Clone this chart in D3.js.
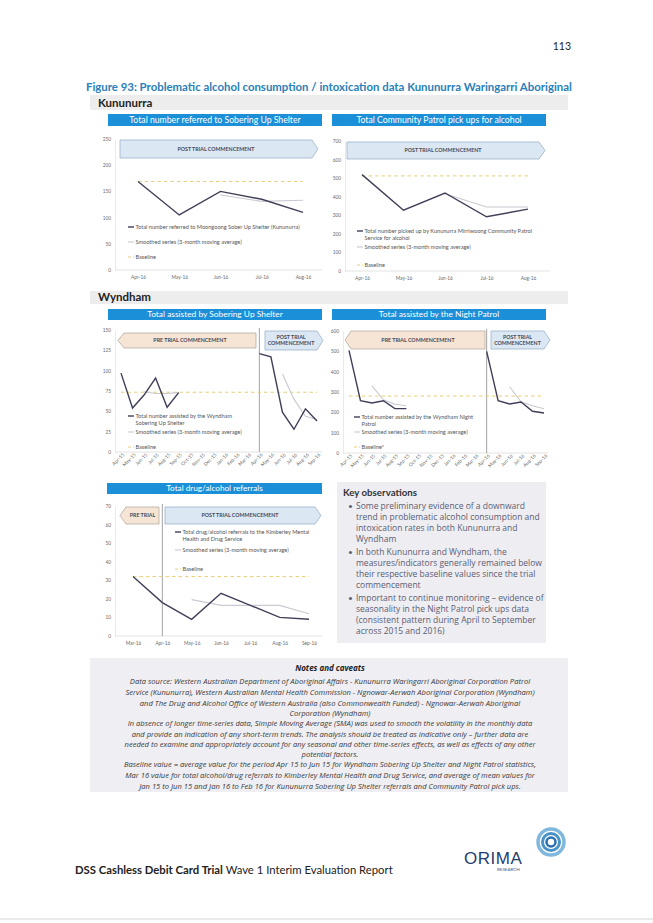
<!DOCTYPE html>
<html><head><meta charset="utf-8">
<script src="https://cdn.jsdelivr.net/npm/d3@7/dist/d3.min.js"></script>
<style>
html,body{margin:0;padding:0;background:#fff;}
svg{display:block;font-family:Lato,"Open Sans",sans-serif;}
</style></head><body>
<svg id="page" width="653" height="923"></svg>
<script>
// ---------- DATA ----------
const kunMonths = ["Apr-16","May-16","Jun-16","Jul-16","Aug-16"];
const kunShelter = [169,105,150,135,110];
const kunShelterSma = [null,null,143,131,133];
const kunShelterBase = 169;
const kunPatrol = [519,327,420,292,333];
const kunPatrolSma = [null,null,416,345,345];
const kunPatrolBase = 512;

const wynMonths = ["Apr-15","May-15","Jun-15","Jul-15","Aug-15","Sep-15","Oct-15","Nov-15","Dec-15","Jan-16","Feb-16","Mar-16","Apr-16","May-16","Jun-16","Jul-16","Aug-16","Sep-16"];
const wynShelter = [97,54,70,91,55,73,null,null,null,null,null,null,121,117,49,28,53,38];
const wynShelterSma = [null,null,74,72,72,73,null,null,null,null,null,null,null,null,96,65,44,40];
const wynShelterBase = 73.5;
const wynPatrol = [505,257,246,257,218,218,null,null,null,null,null,null,500,257,241,251,205,197];
const wynPatrolSma = [null,null,330,262,240,232,null,null,null,null,null,null,null,null,326,252,232,218];
const wynPatrolBase = 280;

const drugMonths = ["Mar-16","Apr-16","May-16","Jun-16","Jul-16","Aug-16","Sep-16"];
const drugRef = [32,18,9,23,16.5,10,9];
const drugSma = [null,null,19.6,16.5,16.5,16.5,12];
const drugBase = 32;

const keyObs = [
  ["Some preliminary evidence of a downward","trend in problematic alcohol consumption and","intoxication rates in both Kununurra  and","Wyndham"],
  ["In both Kununurra  and Wyndham, the","measures/indicators generally remained below","their respective baseline values since the trial","commencement"],
  ["Important to continue monitoring \u2013 evidence of","seasonality in the Night Patrol pick ups data","(consistent pattern during April to September","across 2015 and 2016)"]
];
const notes = [
  "Data source: Western Australian Department of Aboriginal Affairs -  Kununurra Waringarri Aboriginal Corporation Patrol",
  "Service (Kununurra), Western Australian Mental Health Commission - Ngnowar-Aerwah Aboriginal Corporation  (Wyndham)",
  "and The Drug and Alcohol Office of Western Australia (also Commonwealth Funded) - Ngnowar-Aerwah Aboriginal",
  "Corporation  (Wyndham)",
  "In absence of longer time-series data, Simple Moving Average (SMA) was used to smooth the volatility in the monthly data",
  "and provide an indication of any short-term trends. The analysis should be treated as indicative only \u2013 further data are",
  "needed to examine and appropriately account for any seasonal and other time-series effects, as well as effects of any other",
  "potential factors.",
  "Baseline value = average value for the period Apr 15 to Jun 15 for Wyndham Sobering Up Shelter and Night Patrol statistics,",
  "Mar 16 value for total alcohol/drug referrals to Kimberley Mental Health and Drug Service, and average of  mean values for",
  "Jan 15 to Jun 15 and Jan 16 to Feb 16 for Kununurra Sobering Up Shelter referrals and Community Patrol pick ups."
];

// ---------- STYLE ----------
const C = {
  bar:"#1b8fd8", dark:"#3f3f58", smooth:"#c9c9d2", base:"#e6cf78",
  postFill:"#dbe8f4", postStroke:"#8fa9c2", preFill:"#f6e5d5", preStroke:"#a9a39c",
  axis:"#dcdcdc", lab:"#6b6b6b", legend:"#555"
};
const svg = d3.select("#page");

// page header
svg.append("text").attr("x",571).attr("y",50).attr("text-anchor","end")
  .attr("font-size",10.5).attr("fill","#222").text("113");
svg.append("text").attr("x",86).attr("y",91).attr("font-size",11.4).attr("font-weight","bold")
  .attr("fill","#2a80b9").text("Figure 93: Problematic alcohol consumption / intoxication data Kununurra Waringarri Aboriginal");

function band(y, h, label){
  svg.append("rect").attr("x",90).attr("y",y).attr("width",478).attr("height",h).attr("fill","#ededed");
  svg.append("text").attr("x",98).attr("y",y+h-3).attr("font-size",11.5).attr("font-weight","bold")
    .attr("fill","#222").text(label);
}
band(95,15,"Kununurra");
band(291,13,"Wyndham");

function arrowPath(x0,x1,y0,y1,dir){
  const t=6, ym=(y0+y1)/2;
  if(dir==="right") return `M${x0},${y0}L${x1-t},${y0}L${x1},${ym}L${x1-t},${y1}L${x0},${y1}Z`;
  return `M${x0+t},${y0}L${x1},${y0}L${x1},${y1}L${x0+t},${y1}L${x0},${ym}Z`;
}

function chart(o){
  const g = svg.append("g");
  // title bar
  const bh = o.bar[3]-o.bar[1], tfs = o.titleSize || 8.7;
  g.append("rect").attr("x",o.bar[0]).attr("y",o.bar[1]).attr("width",o.bar[2]-o.bar[0]).attr("height",bh).attr("fill",C.bar);
  g.append("text").attr("x",(o.bar[0]+o.bar[2])/2).attr("y",o.bar[1]+bh/2).attr("dy","0.35em").attr("text-anchor","middle")
    .attr("font-size",tfs).attr("fill","#fff").text(o.title);

  const x = d3.scalePoint().domain(o.months).range([o.px0,o.px1]);
  const y = d3.scaleLinear().domain([0,o.yMax]).range([o.yBot,o.yTop]);

  // axes
  const ya = g.append("g").attr("transform",`translate(${o.yAxisX},0)`)
    .call(d3.axisLeft(y).tickValues(d3.range(0,o.yMax+1,o.yStep)).tickSize(0).tickPadding(4));
  ya.select(".domain").attr("stroke",C.axis).attr("stroke-width",0.6);
  ya.selectAll("text").attr("font-size",4.8).attr("fill",C.lab).attr("font-family","Lato");

  g.append("line").attr("x1",o.yAxisX).attr("x2",o.axisEnd).attr("y1",o.yBot).attr("y2",o.yBot)
    .attr("stroke",C.axis).attr("stroke-width",0.8);
  const xa = g.append("g").attr("transform",`translate(0,${o.yBot})`)
    .call(d3.axisBottom(x).tickSize(0).tickPadding(o.rotate?3:6));
  xa.select(".domain").remove();
  xa.selectAll("text").attr("font-size",4.8).attr("fill",C.lab).attr("font-family","Lato");
  if(o.rotate){
    xa.selectAll("text").attr("text-anchor","end").attr("dy","0.3em")
      .attr("transform","rotate(-45)");
  }

  // vertical divider
  if(o.vline){
    g.append("line").attr("x1",x(o.vline)).attr("x2",x(o.vline)).attr("y1",o.yTop-2).attr("y2",o.yBot)
      .attr("stroke","#9a9a9a").attr("stroke-width",0.9);
  }

  // arrows
  o.arrows.forEach(a=>{
    const pre = a.dir==="left";
    g.append("path").attr("d",arrowPath(a.x0,a.x1,a.y0,a.y1,a.dir))
      .attr("fill",pre?C.preFill:C.postFill).attr("stroke",pre?C.preStroke:C.postStroke).attr("stroke-width",0.7);
    const cx=(a.x0+a.x1)/2 + (pre?3:-3), cy=(a.y0+a.y1)/2;
    a.lines.forEach((t,i)=>{
      g.append("text").attr("x",cx).attr("y",cy+(i-(a.lines.length-1)/2)*6.2+1.8)
        .attr("text-anchor","middle").attr("font-size",5.3).attr("font-weight","bold").attr("fill","#4a4a55").text(t);
    });
  });

  // baseline
  const bx0 = o.px0, bx1 = o.px1;
  g.append("line").attr("x1",bx0).attr("x2",bx1).attr("y1",y(o.base)).attr("y2",y(o.base))
    .attr("stroke",C.base).attr("stroke-width",1).attr("stroke-dasharray","3.5,3");

  const ln = d3.line().defined(d=>d.v!=null).x(d=>x(d.m)).y(d=>y(d.v));
  const toPts = arr => o.months.map((m,i)=>({m,v:arr[i]}));
  g.append("path").attr("d",ln(toPts(o.sma))).attr("fill","none").attr("stroke",C.smooth).attr("stroke-width",1.1);
  g.append("path").attr("d",ln(toPts(o.vals))).attr("fill","none").attr("stroke",C.dark).attr("stroke-width",1.4);

  // legend
  const L = o.legend;
  const items = [
    {c:C.dark,w:1.4,dash:null,lines:L.t1,y:L.y[0]},
    {c:C.smooth,w:1.1,dash:null,lines:[L.t2],y:L.y[1]},
    {c:C.base,w:1,dash:"3,2",lines:[L.t3],y:L.y[2]}
  ];
  items.forEach(it=>{
    g.append("line").attr("x1",L.x).attr("x2",L.x+6).attr("y1",it.y).attr("y2",it.y)
      .attr("stroke",it.c).attr("stroke-width",it.w).attr("stroke-dasharray",it.dash);
    it.lines.forEach((t,i)=>{
      g.append("text").attr("x",L.x+7.5).attr("y",it.y+1.9+i*7).attr("font-size",5.6).attr("fill",C.legend).text(t);
    });
  });
}

const smaLabel = "Smoothed series (3-month moving average)";

chart({title:"Total number referred to Sobering Up Shelter", bar:[108,114,322,126],
  months:kunMonths, vals:kunShelter, sma:kunShelterSma, base:kunShelterBase,
  yMax:250, yStep:50, yTop:139, yBot:270, px0:138, px1:303, yAxisX:115, axisEnd:322,
  arrows:[{dir:"right",x0:120,x1:318,y0:140,y1:158,lines:["POST TRIAL COMMENCEMENT"]}],
  legend:{x:128,y:[227,242,257],t1:["Total number referred to Moongoong Sober Up Shelter (Kununurra)"],t2:smaLabel,t3:"Baseline"}});

chart({title:"Total Community Patrol pick ups for alcohol", bar:[332,114,546,126],
  months:kunMonths, vals:kunPatrol, sma:kunPatrolSma, base:kunPatrolBase,
  yMax:700, yStep:100, yTop:141, yBot:271, px0:362, px1:528, yAxisX:345, axisEnd:550,
  arrows:[{dir:"right",x0:347,x1:545,y0:142,y1:159,lines:["POST TRIAL COMMENCEMENT"]}],
  legend:{x:357,y:[231,247,265],t1:["Total number picked up by Kununurra Mirriwoong Community Patrol","Service for alcohol"],t2:smaLabel,t3:"Baseline"}});

chart({title:"Total assisted by Sobering Up Shelter", bar:[108,309,322,320], titleSize:8.4,
  months:wynMonths, vals:wynShelter, sma:wynShelterSma, base:wynShelterBase,
  yMax:150, yStep:25, yTop:330, yBot:452, px0:121, px1:317, yAxisX:115, axisEnd:322, rotate:true,
  vline:"Apr-16",
  arrows:[{dir:"left",x0:118,x1:256,y0:333,y1:348,lines:["PRE TRIAL COMMENCEMENT"]},
          {dir:"right",x0:265,x1:323,y0:331,y1:350,lines:["POST TRIAL","COMMENCEMENT"]}],
  legend:{x:128,y:[416,432,447],t1:["Total number assisted by the Wyndham","Sobering Up Shelter"],t2:smaLabel,t3:"Baseline"}});

chart({title:"Total  assisted by the Night Patrol", bar:[332,309,546,320], titleSize:8.4,
  months:wynMonths, vals:wynPatrol, sma:wynPatrolSma, base:wynPatrolBase,
  yMax:600, yStep:100, yTop:331, yBot:453, px0:349, px1:544, yAxisX:343, axisEnd:548, rotate:true,
  vline:"Apr-16",
  arrows:[{dir:"left",x0:345,x1:485,y0:331,y1:349,lines:["PRE TRIAL COMMENCEMENT"]},
          {dir:"right",x0:491,x1:550,y0:331,y1:349,lines:["POST TRIAL","COMMENCEMENT"]}],
  legend:{x:354,y:[417,432,447],t1:["Total number assisted by the Wyndham Night","Patrol"],t2:smaLabel,t3:"Baseline*"}});

chart({title:"Total drug/alcohol referrals", bar:[107,483,322,494], titleSize:8.2,
  months:drugMonths, vals:drugRef, sma:drugSma, base:drugBase,
  yMax:70, yStep:10, yTop:506, yBot:636, px0:133, px1:309, yAxisX:115, axisEnd:322,
  vline:"Apr-16",
  arrows:[{dir:"left",x0:120,x1:159,y0:507,y1:524,lines:["PRE TRIAL"]},
          {dir:"right",x0:165,x1:321,y0:507,y1:524,lines:["POST TRIAL COMMENCEMENT"]}],
  legend:{x:175,y:[532,550,569],t1:["Total drug/alcohol referrals to the Kimberley Mental","Health and Drug Service"],t2:smaLabel,t3:"Baseline"}});

// key observations
svg.append("rect").attr("x",337).attr("y",482).attr("width",209).attr("height",161).attr("fill","#eeedf2");
svg.append("text").attr("x",343).attr("y",496).attr("font-size",9.7).attr("font-weight","bold").attr("fill","#333").text("Key observations");
let ky = 509;
keyObs.forEach(b=>{
  svg.append("text").attr("x",348).attr("y",ky).attr("font-size",8.4).attr("fill","#5b5d72").text("\u2022");
  b.forEach((t,i)=>{
    svg.append("text").attr("x",356).attr("y",ky+i*11).attr("font-size",8.5).attr("font-family","Open Sans")
      .attr("fill","#5b5d72").text(t);
  });
  ky += b.length*11 + 2;
});

// notes
svg.append("rect").attr("x",90).attr("y",658).attr("width",478).attr("height",134).attr("fill","#efeef2");
svg.append("text").attr("x",330).attr("y",671).attr("text-anchor","middle").attr("font-size",8)
  .attr("font-weight","bold").attr("font-style","italic").attr("font-family","Open Sans").attr("fill","#222").text("Notes and caveats");
const noteY = [684,695,706,716,726,737,747,757,767,778,789];
notes.forEach((t,i)=>{
  svg.append("text").attr("x",330).attr("y",noteY[i]).attr("text-anchor","middle").attr("font-size",7.6)
    .attr("font-style","italic").attr("font-family","Open Sans").attr("fill","#3a3a3a").text(t);
});

// footer
const ft = svg.append("text").attr("x",75).attr("y",874).attr("font-size",11.3).attr("fill","#222");
ft.append("tspan").attr("font-weight","bold").text("DSS Cashless Debit Card Trial");
ft.append("tspan").text(" Wave 1 Interim Evaluation Report");
svg.append("text").attr("x",464).attr("y",864).attr("font-size",17).attr("fill","#1f3d6e")
  .attr("font-family","Liberation Sans, Arial").attr("letter-spacing",0.5).text("ORIMA");
svg.append("text").attr("x",497).attr("y",871).attr("font-size",4.5).attr("fill","#3b5a85").text("RESEARCH");
[[13,"#7fb8dc",3.5],[8.5,"#4a93c8",3],[4.5,"#2a6fb0",2.5]].forEach(([r,c,w])=>{
  svg.append("circle").attr("cx",551).attr("cy",842).attr("r",r).attr("fill","none").attr("stroke",c).attr("stroke-width",w);
});
svg.append("line").attr("x1",0).attr("x2",653).attr("y1",919).attr("y2",919).attr("stroke","#d5d5d5").attr("stroke-width",1);
</script>
</body></html>
